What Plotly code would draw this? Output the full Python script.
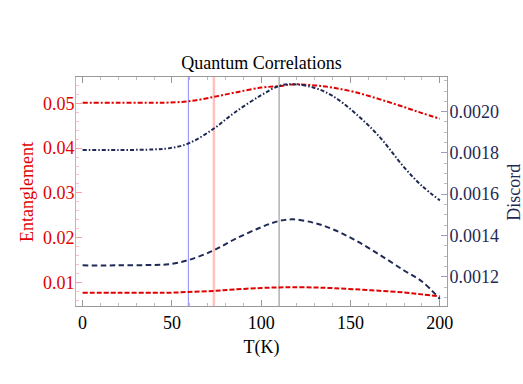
import plotly.graph_objects as go

# ---- data ----
T = [0, 20, 40, 48, 59, 73, 85, 100, 110, 118, 130, 140, 152, 166, 180, 190, 200]

ent_upper = [0.05013, 0.05013, 0.05015, 0.05018, 0.05045, 0.05141, 0.0524, 0.05353, 0.05387,
             0.05425, 0.05402, 0.05353, 0.05255, 0.05096, 0.04917, 0.04783, 0.04656]
ent_lower = [0.00765, 0.00765, 0.00765, 0.00766, 0.00783, 0.00806, 0.0084, 0.00873, 0.00885,
             0.00888, 0.00884, 0.0087, 0.00845, 0.0081, 0.00772, 0.0073, 0.00683]
dis_upper = [0.001814, 0.001814, 0.001817, 0.001822, 0.001845, 0.001915, 0.001995, 0.00208, 0.002125,
             0.002133, 0.002115, 0.002076, 0.001997, 0.00188, 0.00173, 0.00164, 0.00157]
dis_lower = [0.001255, 0.001255, 0.001257, 0.00126, 0.00128, 0.001326, 0.001381, 0.00144, 0.00147,
             0.001478, 0.00146, 0.00143, 0.00138, 0.001308, 0.00123, 0.001177, 0.001092]

marker_T = [59.2, 73.5, 110]
x_ticks = [0, 50, 100, 150, 200]

RED = "#e00000"
NAVY = "#1e2a55"
FONT = "Liberation Serif"

fig = go.Figure()

fig.add_trace(go.Scatter(x=T, y=ent_upper, mode="lines", line=dict(color=RED, width=2, dash="5px,2px,2px,2px", shape="spline"),
                         name="Entanglement", yaxis="y"))
fig.add_trace(go.Scatter(x=T, y=ent_lower, mode="lines", line=dict(color=RED, width=2, dash="5px,2px", shape="spline"),
                         name="Entanglement", yaxis="y"))
fig.add_trace(go.Scatter(x=T, y=dis_upper, mode="lines", line=dict(color=NAVY, width=2, dash="4px,2px,1.5px,2px", shape="spline"),
                         name="Discord", yaxis="y2"))
fig.add_trace(go.Scatter(x=T, y=dis_lower, mode="lines", line=dict(color=NAVY, width=2, dash="5.5px,3.5px", shape="spline"),
                         name="Discord", yaxis="y2"))

line_colors = ["#8c8cff", "#ffc0c0", "#8a8a8a"]
line_widths = [1, 2.5, 1]
for t, c, w in zip(marker_T, line_colors, line_widths):
    fig.add_shape(type="line", x0=t, x1=t, y0=0, y1=1, xref="x", yref="paper",
                  line=dict(color=c, width=w), layer="below")

fig.update_layout(
    width=523, height=384,
    margin=dict(l=76, r=76, t=77, b=78),
    paper_bgcolor="white", plot_bgcolor="white",
    showlegend=False,
    font=dict(family=FONT, size=18, color="black"),
    title=dict(text="Quantum Correlations", x=0.5, xref="paper", xanchor="center",
               y=1 - 62.7 / 384, yref="container", yanchor="middle",
               font=dict(family=FONT, size=18, color="black")),
    xaxis=dict(range=[-3.7, 204], tickvals=x_ticks, ticks="inside", ticklen=6, tickcolor="#999999",
               showline=True, linecolor="#999999", linewidth=1, mirror="ticks",
               showgrid=False, zeroline=False,
               minor=dict(dtick=10, tick0=0, ticks="inside", ticklen=3, tickcolor="#bbbbbb"),
               tickfont=dict(family=FONT, size=18, color="black"),
               title=dict(text="T(K)", font=dict(family=FONT, size=18, color="black"), standoff=8)),
    yaxis=dict(range=[0.0047, 0.0559], dtick=0.01, tick0=0, tickformat=".2f",
               ticks="inside", ticklen=6, tickcolor="#f4a0a0",
               showline=True, linecolor="#f4a0a0", linewidth=1,
               showgrid=False, zeroline=False, ticklabelstandoff=-3,
               minor=dict(dtick=0.002, tick0=0, ticks="inside", ticklen=3, tickcolor="#f8c4c4"),
               tickfont=dict(family=FONT, size=18, color=RED)),
    yaxis2=dict(range=[0.001058, 0.002168], dtick=0.0002, tick0=0, tickformat=".4f",
                overlaying="y", side="right", anchor="x",
                ticks="inside", ticklen=6, tickcolor="#9aa0b8",
                showline=True, linecolor="#9aa0b8", linewidth=1,
                showgrid=False, zeroline=False, ticklabelstandoff=-2,
                minor=dict(dtick=0.00005, tick0=0, ticks="inside", ticklen=3, tickcolor="#b8bccc"),
                tickfont=dict(family=FONT, size=18, color=NAVY)),
    annotations=[
        dict(text="Entanglement", x=(27 - 76) / 371, y=(306 - 192) / 229, xref="paper", yref="paper",
             textangle=-90, showarrow=False, xanchor="center", yanchor="middle",
             font=dict(family=FONT, size=18, color=RED)),
        dict(text="Discord", x=(514 - 76) / 371, y=(306 - 192.7) / 229, xref="paper", yref="paper",
             textangle=-90, showarrow=False, xanchor="center", yanchor="middle",
             font=dict(family=FONT, size=18, color=NAVY)),
    ],
)

fig.write_html("out.html", config={"displayModeBar": False},
               post_script="document.body.style.margin='0';")
